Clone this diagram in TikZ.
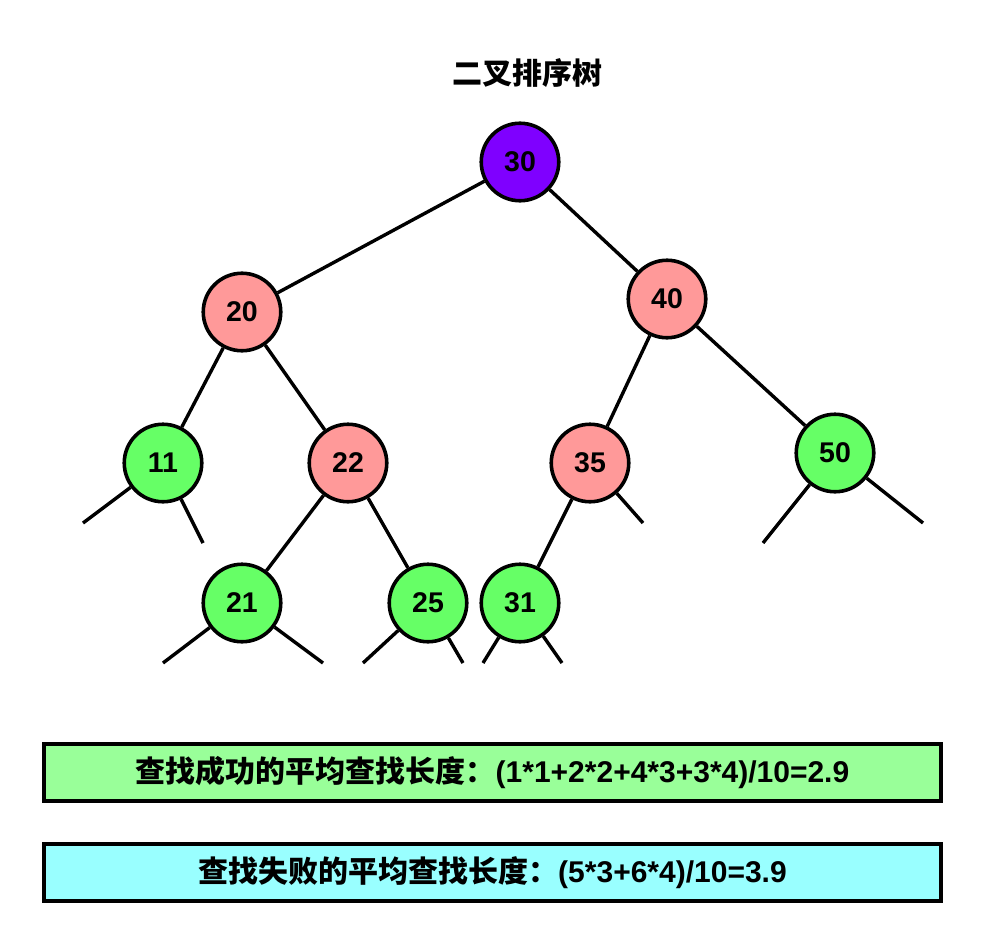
\documentclass[tikz,border=0pt]{standalone}
\usepackage{fontspec}
\setmainfont{Liberation Sans}
\newfontfamily\cjk{Noto Sans CJK SC}
\definecolor{rootc}{HTML}{7F00FF}
\definecolor{pinkc}{HTML}{FF9999}
\definecolor{greenc}{HTML}{66FF66}
\definecolor{boxg}{HTML}{99FF99}
\definecolor{boxc}{HTML}{99FFFF}
\begin{document}
\begin{tikzpicture}[x=1pt,y=-1pt,
  tn/.style={circle,draw=black,line width=3.6pt,minimum size=77.5pt,inner sep=0pt,
    font=\fontsize{28.5}{32}\selectfont\bfseries},
  rootn/.style={tn,fill=rootc},
  pinkn/.style={tn,fill=pinkc},
  greenn/.style={tn,fill=greenc},
  edge/.style={line width=3.4pt},
  sumbox/.style={draw=black,line width=3.6pt,minimum width=897pt,minimum height=57.5pt,
    inner sep=0pt,font=\fontsize{30}{34}\selectfont\bfseries}]
\useasboundingbox (0,0) rectangle (984,944);
\node[font=\fontsize{30}{34}\selectfont\bfseries\cjk] (title) at (527,73) {二叉排序树};
\node[rootn] (n30) at (520,162) {30};
\node[pinkn] (n20) at (242,312) {20};
\node[pinkn] (n40) at (667,299) {40};
\node[greenn] (n11) at (163,463) {11};
\node[pinkn] (n22) at (348,463) {22};
\node[pinkn] (n35) at (590,463) {35};
\node[greenn] (n50) at (835,453) {50};
\node[greenn] (n21) at (242,603) {21};
\node[greenn] (n25) at (428,603) {25};
\node[greenn] (n31) at (520,603) {31};
\coordinate (e11a) at (83,523);
\coordinate (e11b) at (203,543);
\coordinate (e21a) at (163,663);
\coordinate (e21b) at (323,663);
\coordinate (e25a) at (363,663);
\coordinate (e25b) at (463,663);
\coordinate (e31a) at (483,663);
\coordinate (e31b) at (562,663);
\coordinate (e35b) at (643,523);
\coordinate (e50a) at (763,543);
\coordinate (e50b) at (923,523);
\draw[edge] (n30) -- (n20);
\draw[edge] (n30) -- (n40);
\draw[edge] (n20) -- (n11);
\draw[edge] (n20) -- (n22);
\draw[edge] (n40) -- (n35);
\draw[edge] (n40) -- (n50);
\draw[edge] (n22) -- (n21);
\draw[edge] (n22) -- (n25);
\draw[edge] (n35) -- (n31);
\draw[edge] (n11) -- (e11a);
\draw[edge] (n11) -- (e11b);
\draw[edge] (n21) -- (e21a);
\draw[edge] (n21) -- (e21b);
\draw[edge] (n25) -- (e25a);
\draw[edge] (n25) -- (e25b);
\draw[edge] (n31) -- (e31a);
\draw[edge] (n31) -- (e31b);
\draw[edge] (n35) -- (e35b);
\draw[edge] (n50) -- (e50a);
\draw[edge] (n50) -- (e50b);
\node[sumbox,fill=boxg] (succ) at (492.5,772.5) {{\cjk 查找成功的平均查找长度：}(1*1+2*2+4*3+3*4)/10=2.9};
\node[sumbox,fill=boxc] (fail) at (492.5,872.5) {{\cjk 查找失败的平均查找长度：}(5*3+6*4)/10=3.9};
\end{tikzpicture}
\end{document}
